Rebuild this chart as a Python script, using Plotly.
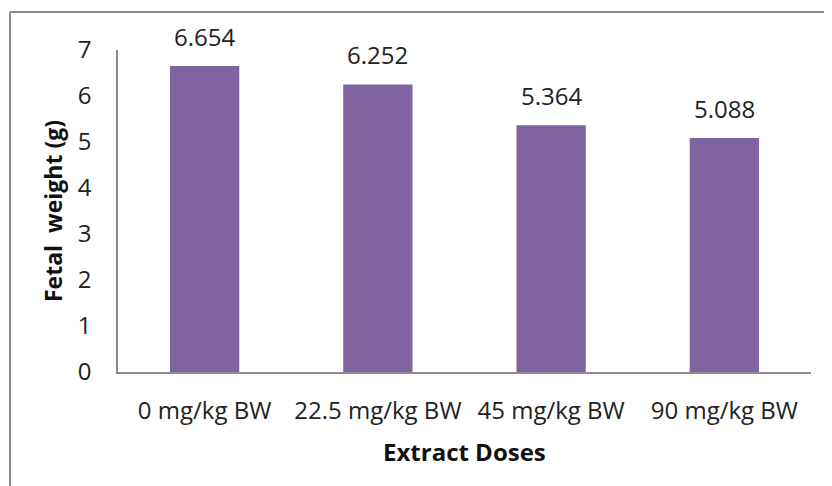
import plotly.graph_objects as go

categories = ["0 mg/kg BW", "22.5 mg/kg BW", "45 mg/kg BW", "90 mg/kg BW"]
values = [6.654, 6.252, 5.364, 5.088]
value_labels = ["6.654", "6.252", "5.364", "5.088"]
y_ticks = [0, 1, 2, 3, 4, 5, 6, 7]

# page body adds an 8px offset, so the figure is drawn 8px smaller and shifted
OFF = 8
W, H = 832 - OFF, 486 - OFF
L, R, T, B = 118 - OFF, 21, 50 - OFF, 114
pw, ph = W - L - R, H - T - B

font = "Open Sans, Liberation Sans, sans-serif"

fig = go.Figure()
fig.add_trace(go.Bar(
    x=categories, y=values,
    marker=dict(color="#8064A2", line=dict(width=0)),
    width=0.4,
    cliponaxis=False,
    hoverinfo="skip",
))

annotations = []
for c, v, t in zip(categories, values, value_labels):
    annotations.append(dict(x=c, y=v, xref="x", yref="y", text=t, showarrow=False,
                            yanchor="bottom", yshift=11,
                            font=dict(family=font, size=24, color="#222222")))
annotations.append(dict(x=0.5, y=(372 - 451) / ph, xref="paper", yref="paper",
                        text="<b>Extract Doses</b>", showarrow=False,
                        xanchor="center", yanchor="middle",
                        font=dict(family=font, size=24, color="#111111")))
annotations.append(dict(x=(53 - 118) / pw, y=0.5, xref="paper", yref="paper",
                        text="<b>Fetal&nbsp; weight (g)</b>", showarrow=False, textangle=-90,
                        xanchor="center", yanchor="middle",
                        font=dict(family=font, size=23, color="#111111")))

shapes = [
    dict(type="line", xref="paper", yref="paper",
         x0=(10 - 118) / pw, x1=(832 + 5 - 118) / pw, y0=1 + (50 - 12) / ph, y1=1 + (50 - 12) / ph,
         line=dict(color="#8a8a8a", width=2)),
    dict(type="line", xref="paper", yref="paper",
         x0=(10 - 118) / pw, x1=(10 - 118) / pw, y0=1 + (50 - 12) / ph, y1=-(H + 5 - T - ph) / ph,
         line=dict(color="#8a8a8a", width=2)),
]

fig.update_layout(
    width=W, height=H,
    margin=dict(l=L, r=R, t=T, b=B, autoexpand=False),
    paper_bgcolor="white", plot_bgcolor="white",
    showlegend=False,
    bargap=0.6,
    annotations=annotations,
    shapes=shapes,
    font=dict(family=font, size=24, color="#222222"),
)
fig.update_xaxes(
    showline=True, linecolor="#8c8c8c", linewidth=1.5,
    ticks="", showgrid=False, ticklabelstandoff=16,
    tickfont=dict(family=font, size=24, color="#222222"),
)
fig.update_yaxes(
    range=[0, 7], tickvals=y_ticks, showline=True, linecolor="#8c8c8c", linewidth=1.5,
    ticks="", showgrid=False, zeroline=False, ticklabelstandoff=20,
    tickfont=dict(family=font, size=24, color="#222222"),
)

fig.write_html("out.html")
